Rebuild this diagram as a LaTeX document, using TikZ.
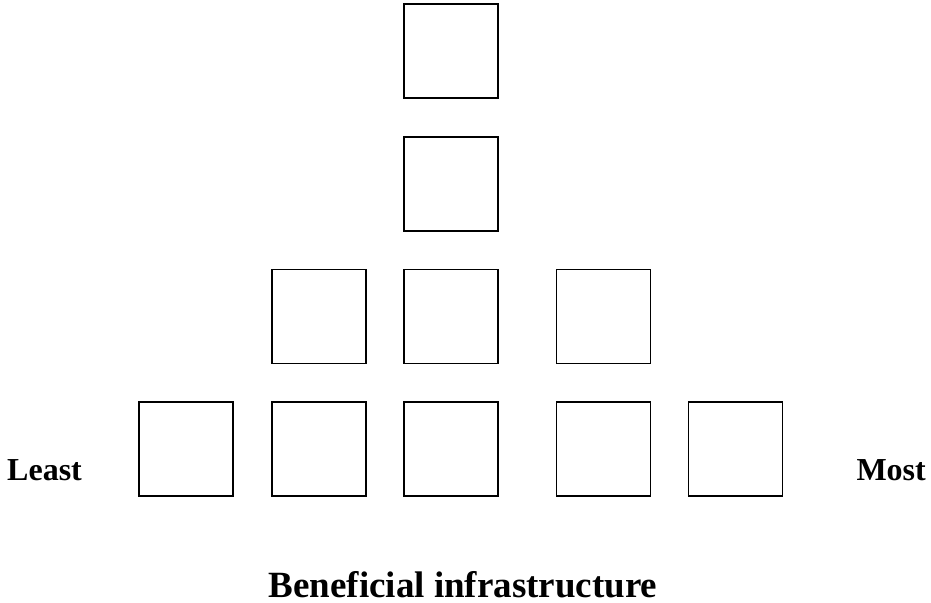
\documentclass[tikz,border=0pt]{standalone}
\usepackage{fontspec}
\setmainfont{Liberation Serif}
\tikzset{cell/.style={draw, line width=1.5pt, inner sep=0pt, minimum size=94pt},
  caption/.style={font=\bfseries\fontsize{32}{36}\selectfont, inner sep=0pt}}

\begin{document}
\begin{tikzpicture}[x=1pt, y=-1pt]
\useasboundingbox (0,0) rectangle (931,602);
\node[cell] (top) at (451,51) {};
\node[cell] (mid) at (451,184) {};
\node[cell] (r3a) at (319,316.5) {}; \node[cell] (r3b) at (451,316.5) {}; \node[cell] (r3c) at (603.5,316.5) {};
\node[cell] (r4a) at (186,449) {}; \node[cell] (r4b) at (319,449) {}; \node[cell] (r4c) at (451,449) {};
\node[cell] (r4d) at (603.5,449) {}; \node[cell] (r4e) at (735.5,449) {};
\node[caption, anchor=base west] (least) at (7,480) {Least};
\node[caption, anchor=base east] (most) at (926,480) {Most};
\node[caption, font=\bfseries\fontsize{37}{42}\selectfont, anchor=base] (title) at (463,597) {Beneficial infrastructure};
\end{tikzpicture}
\end{document}
